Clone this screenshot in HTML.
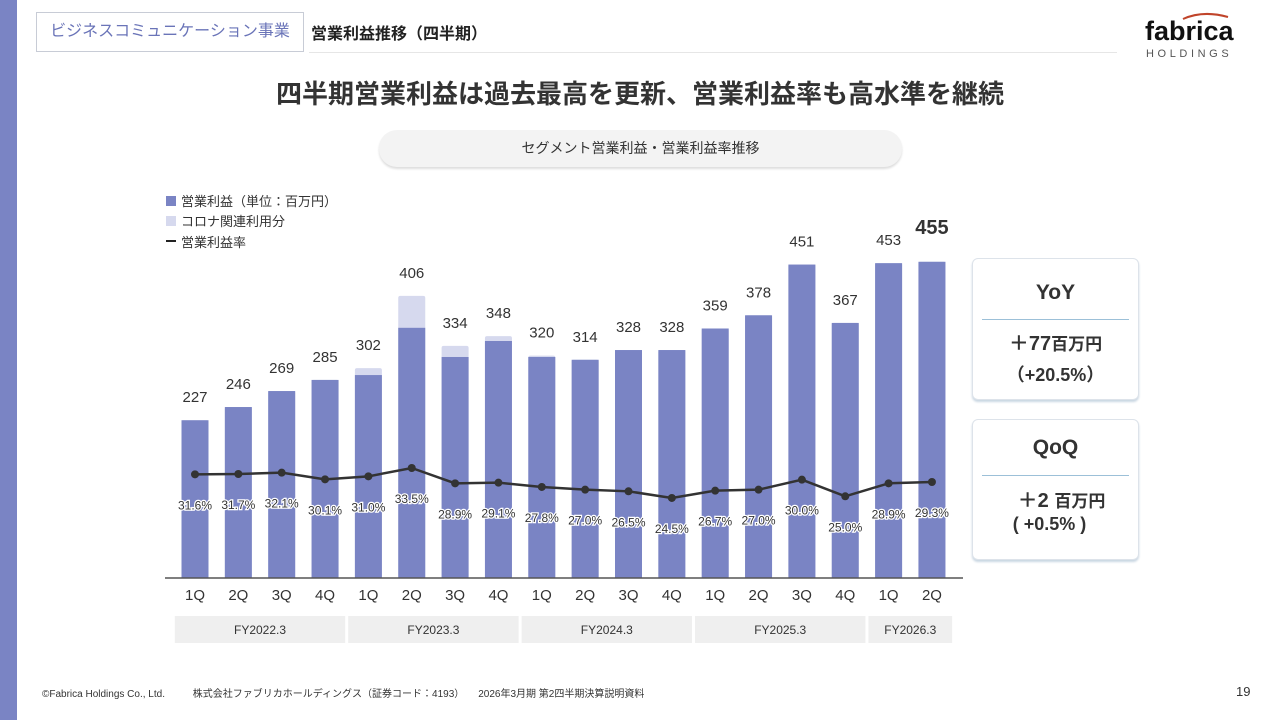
<!DOCTYPE html>
<html><head><meta charset="utf-8"><style>
*{margin:0;padding:0;box-sizing:border-box}
body{width:1280px;height:720px;background:#fff;position:relative;overflow:hidden;font-family:"Liberation Sans","Noto Sans CJK JP",sans-serif;color:#333}
.abs{position:absolute}
.card{position:absolute;left:972px;width:167px;background:#fff;border:1px solid #dde3ea;border-radius:6px;box-shadow:0 2px 2px #c9d6e2;text-align:center;color:#333;font-weight:bold}
.card .hr{position:absolute;left:9px;right:9px;height:1px;background:#9cc0d8}
</style></head><body>
<div class="abs" style="left:0;top:0;width:17px;height:720px;background:#7a84c4"></div>
<div class="abs" style="left:36px;top:12px;width:268px;height:40px;border:1px solid #c8ccd6;color:#6a74b8;font-size:16px;line-height:38px;text-align:center">ビジネスコミュニケーション事業</div>
<div class="abs" style="left:311px;top:20px;font-size:16px;font-weight:bold;color:#222">営業利益推移（四半期）</div>
<div class="abs" style="left:309px;top:52px;width:808px;height:1px;background:#e6e6e6"></div>
<div class="abs" style="left:1143px;top:10px;width:95px;height:50px;text-align:center">
<svg width="95" height="12" style="position:absolute;left:0;top:0"><path d="M40 9 Q60 0 85 7" stroke="#c0442a" stroke-width="2" fill="none"/></svg>
<div style="position:absolute;left:2px;top:6px;font-size:27px;font-weight:bold;color:#111;letter-spacing:0px">fabrica</div>
<div style="position:absolute;left:3px;top:38px;font-size:11px;color:#555;letter-spacing:3.6px">HOLDINGS</div></div>
<div class="abs" style="left:0;width:1280px;top:74px;text-align:center;font-size:26px;font-weight:bold;color:#333">四半期営業利益は過去最高を更新、営業利益率も高水準を継続</div>
<div class="abs" style="left:379px;top:130px;width:523px;height:37px;border-radius:18px;background:#f3f3f3;box-shadow:0 2px 2px #ddd;text-align:center;line-height:37px;font-size:14px;color:#333">セグメント営業利益・営業利益率推移</div>
<svg class="abs" style="left:0;top:0" width="1280" height="720" id="chart"></svg>
<div class="card" style="top:258px;height:142px">
<div style="margin-top:22px;font-size:21px">YoY</div><div class="hr" style="top:60px"></div>
<div style="position:absolute;top:68px;width:100%;font-size:20px">＋77<span style="font-size:17px">百万円</span></div>
<div style="position:absolute;top:102px;width:100%;font-size:18px">（+20.5%）</div></div>
<div class="card" style="top:419px;height:141px">
<div style="margin-top:16px;font-size:21px">QoQ</div><div class="hr" style="top:55px"></div>
<div style="position:absolute;top:64px;width:100%;font-size:20px;padding-left:12px">＋2 <span style="font-size:17px">百万円</span></div>
<div style="position:absolute;top:94px;width:100%;font-size:18px;padding-right:12px">( +0.5% )</div></div>
<div class="abs" style="left:42px;top:685px;font-size:10px;color:#333">©Fabrica Holdings Co., Ltd.&nbsp;&nbsp;&nbsp;&nbsp;&nbsp;&nbsp;&nbsp;&nbsp;&nbsp;&nbsp;株式会社ファブリカホールディングス（証券コード：4193）&nbsp;&nbsp;&nbsp;&nbsp;&nbsp;2026年3月期 第2四半期決算説明資料</div>
<div class="abs" style="left:1236px;top:684px;font-size:13px;color:#333">19</div>
<script>
const quarters=["1Q","2Q","3Q","4Q","1Q","2Q","3Q","4Q","1Q","2Q","3Q","4Q","1Q","2Q","3Q","4Q","1Q","2Q"];
const totals=[227,246,269,285,302,406,334,348,320,314,328,328,359,378,451,367,453,455];
const corona=[0,0,0,0,10,46,16,7,2,0,0,0,0,0,0,0,0,0];
const rates=[31.6,31.7,32.1,30.1,31.0,33.5,28.9,29.1,27.8,27.0,26.5,24.5,26.7,27.0,30.0,25.0,28.9,29.3];
const years=["FY2022.3","FY2023.3","FY2024.3","FY2025.3","FY2026.3"];
const yearCounts=[4,4,4,4,2];
const NS="http://www.w3.org/2000/svg";
const svg=document.getElementById('chart');
const x0=195,step=43.35,base=578,k=0.695,bw=27;
const xs=i=>x0+i*step;
const ys=v=>base-v*k;
const yr=r=>468+(33.5-r)*3.33;
function mk(t,a){const e=document.createElementNS(NS,t);for(const n in a)e.setAttribute(n,a[n]);svg.appendChild(e);return e;}
// legend
let e;
e=mk('rect',{x:166,y:196,width:10,height:10,fill:'#7a84c4'});


e=mk('rect',{x:166,y:216,width:10,height:10,fill:'#d6d9ee'});


e=mk('rect',{x:166,y:240,width:10,height:2,fill:'#222'});


[["営業利益（単位：百万円）",206],["コロナ関連利用分",226],["営業利益率",247]].forEach(([t,y])=>{
e=mk('text',{x:181,y:y,'font-size':13,fill:'#333'});e.textContent=t;

});
totals.forEach((v,i)=>{
const x=xs(i)-bw/2;
e=mk('rect',{x:x,y:ys(v),width:bw,height:v*k,fill:'#d6d9ee',rx:2});


e=mk('rect',{x:x,y:ys(v-corona[i]),width:bw,height:(v-corona[i])*k,fill:'#7a84c4'});


const last=i===totals.length-1;
e=mk('text',{x:xs(i),y:ys(v)-(last?28:18),'text-anchor':'middle','font-size':last?20:15,'font-weight':last?'bold':'normal',fill:'#333'});
e.textContent=v;


e=mk('text',{x:xs(i),y:600,'text-anchor':'middle','font-size':15,fill:'#333'});
e.textContent=quarters[i];


});
e=mk('line',{x1:165,x2:963,y1:578,y2:578,stroke:'#555','stroke-width':1.5});


e=mk('polyline',{points:rates.map((r,i)=>xs(i)+','+yr(r)).join(' '),fill:'none',stroke:'#333','stroke-width':2.5});


rates.forEach((r,i)=>{
e=mk('circle',{cx:xs(i),cy:yr(r),r:4,fill:'#333'});


e=mk('text',{x:xs(i),y:yr(r)+35,'text-anchor':'middle','font-size':12,fill:'#333',stroke:'#fff','stroke-width':2.5,'paint-order':'stroke'});
e.textContent=r.toFixed(1)+'%';


});
let s=0;
years.forEach((y,j)=>{
const n=yearCounts[j];
const xa=xs(s)-step/2+1.5,xb=xs(s+n-1)+step/2-1.5;
e=mk('rect',{x:xa,y:616,width:xb-xa,height:27,fill:'#efefef'});


e=mk('text',{x:(xa+xb)/2,y:634,'text-anchor':'middle','font-size':12,fill:'#333'});
e.textContent=y;


s+=n;});
</script>
</body></html>
